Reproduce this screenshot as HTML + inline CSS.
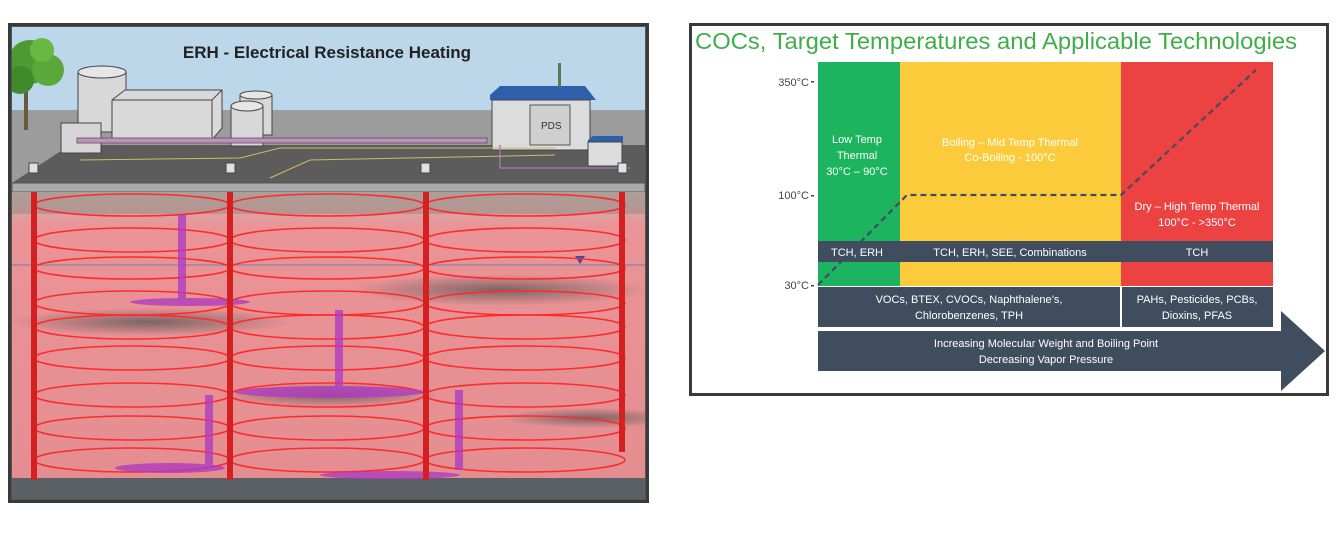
<!DOCTYPE html>
<html><head><meta charset="utf-8"><style>
body{margin:0;width:1336px;height:538px;background:#fff;overflow:hidden;font-family:"Liberation Sans",sans-serif}
</style></head><body>
<svg width="1336" height="538" viewBox="0 0 1336 538" xmlns="http://www.w3.org/2000/svg" style="position:absolute;left:0;top:0">
<defs>
<linearGradient id="soil" x1="0" y1="0" x2="0" y2="1">
<stop offset="0" stop-color="#c9b8b4"/><stop offset="0.12" stop-color="#eb9497"/><stop offset="1" stop-color="#e48e91"/>
</linearGradient>
<radialGradient id="dark" cx="0.5" cy="0.5" r="0.5"><stop offset="0" stop-color="#555" stop-opacity="0.75"/><stop offset="1" stop-color="#555" stop-opacity="0"/></radialGradient>
<clipPath id="lp"><rect x="12" y="27" width="633" height="472"/></clipPath>
</defs>
<!-- LEFT PANEL -->
<rect x="9.5" y="24.5" width="638" height="477" fill="#555" stroke="#3a3a3a" stroke-width="3"/>
<g clip-path="url(#lp)">
<rect x="12" y="27" width="633" height="472" fill="#bcd6ea"/>
<rect x="12" y="110" width="633" height="80" fill="#9c9c9c"/>
<polygon points="12,183 70,145 645,145 645,183" fill="#5c5c5c"/>
<rect x="24" y="90" width="4" height="40" fill="#6b5a3a"/>
<circle cx="30" cy="62" r="22" fill="#4e9a32"/><circle cx="48" cy="70" r="16" fill="#5aa83a"/><circle cx="20" cy="80" r="14" fill="#3f8a2a"/><circle cx="42" cy="50" r="12" fill="#6ab844"/>
<rect x="78" y="72" width="48" height="60" fill="#d8d8d8" stroke="#444"/><ellipse cx="102" cy="72" rx="24" ry="6" fill="#e6e6e6" stroke="#444"/>
<polygon points="112,100 125,90 222,90 222,128 212,140 112,140" fill="#d9d9d9" stroke="#444"/>
<line x1="112" y1="100" x2="212" y2="100" stroke="#444"/><line x1="212" y1="100" x2="222" y2="90" stroke="#444"/><line x1="212" y1="100" x2="212" y2="140" stroke="#444"/>
<rect x="61" y="123" width="40" height="30" fill="#d6d6d6" stroke="#444"/>
<rect x="240" y="95" width="32" height="40" fill="#d8d8d8" stroke="#444"/><ellipse cx="256" cy="95" rx="16" ry="4" fill="#e6e6e6" stroke="#444"/>
<rect x="231" y="106" width="32" height="40" fill="#d8d8d8" stroke="#444"/><ellipse cx="247" cy="106" rx="16" ry="5" fill="#e6e6e6" stroke="#444"/>
<rect x="77" y="138" width="410" height="5" fill="#c48ec0" stroke="#555" stroke-width="0.8"/>
<polygon points="490,95 500,86 585,86 596,100 490,100" fill="#2f5faa"/>
<rect x="492" y="100" width="98" height="50" fill="#dcdcdc" stroke="#444"/>
<rect x="530" y="105" width="40" height="40" fill="#cfcfcf" stroke="#555"/>
<text x="541" y="129" font-size="10" fill="#333">PDS</text>
<rect x="558" y="63" width="3" height="24" fill="#5a7a5a"/>
<polygon points="588,140 593,136 623,136 623,142 588,142" fill="#2f5faa"/><rect x="588" y="142" width="34" height="24" fill="#dcdcdc" stroke="#444"/>
<polyline points="500,145 500,168 630,168" fill="none" stroke="#a36fb0" stroke-width="1.5"/>
<polyline points="80,160 240,158 280,148 555,148" fill="none" stroke="#c8c060" stroke-width="1"/>
<polyline points="270,178 310,160 555,155" fill="none" stroke="#c8c060" stroke-width="1"/>
<rect x="12" y="183" width="633" height="9" fill="#aaa" stroke="#555"/>
<rect x="12" y="192" width="633" height="288" fill="url(#soil)"/>
<rect x="12" y="192" width="633" height="22" fill="#8f8580" opacity="0.5"/>
<ellipse cx="150" cy="322" rx="140" ry="14" fill="url(#dark)"/>
<ellipse cx="500" cy="290" rx="150" ry="16" fill="url(#dark)"/>
<ellipse cx="330" cy="395" rx="110" ry="12" fill="url(#dark)"/>
<ellipse cx="590" cy="418" rx="90" ry="10" fill="url(#dark)"/>
<line x1="12" y1="265" x2="645" y2="265" stroke="#6b7fa8" stroke-width="1"/>
<polygon points="575,256 585,256 580,264" fill="#3b4fa0"/>
<rect x="12" y="478" width="633" height="21" fill="#5b6064"/>
<g fill="none" stroke="#ff2a2a" stroke-width="1.6">
<ellipse cx="132" cy="205" rx="98" ry="11"/><ellipse cx="132" cy="240" rx="98" ry="12"/><ellipse cx="132" cy="268" rx="98" ry="11"/><ellipse cx="132" cy="303" rx="98" ry="12"/><ellipse cx="132" cy="327" rx="98" ry="12"/><ellipse cx="132" cy="358" rx="98" ry="12"/><ellipse cx="132" cy="395" rx="98" ry="12"/><ellipse cx="132" cy="428" rx="98" ry="12"/><ellipse cx="132" cy="460" rx="98" ry="12"/>
<ellipse cx="327" cy="205" rx="97" ry="11"/><ellipse cx="327" cy="240" rx="97" ry="12"/><ellipse cx="327" cy="268" rx="97" ry="11"/><ellipse cx="327" cy="303" rx="97" ry="12"/><ellipse cx="327" cy="327" rx="97" ry="12"/><ellipse cx="327" cy="358" rx="97" ry="12"/><ellipse cx="327" cy="395" rx="97" ry="12"/><ellipse cx="327" cy="428" rx="97" ry="12"/><ellipse cx="327" cy="460" rx="97" ry="12"/>
<ellipse cx="525" cy="205" rx="100" ry="11"/><ellipse cx="525" cy="240" rx="100" ry="12"/><ellipse cx="525" cy="268" rx="100" ry="11"/><ellipse cx="525" cy="303" rx="100" ry="12"/><ellipse cx="525" cy="327" rx="100" ry="12"/><ellipse cx="525" cy="358" rx="100" ry="12"/><ellipse cx="525" cy="395" rx="100" ry="12"/><ellipse cx="525" cy="428" rx="100" ry="12"/><ellipse cx="525" cy="460" rx="100" ry="12"/>
</g>
<g fill="#b03cc0" opacity="0.8">
<rect x="178" y="215" width="8" height="90"/><ellipse cx="190" cy="302" rx="60" ry="4"/>
<rect x="335" y="310" width="8" height="85"/><ellipse cx="330" cy="392" rx="95" ry="6"/>
<rect x="205" y="395" width="8" height="75"/><ellipse cx="170" cy="468" rx="55" ry="5"/>
<rect x="455" y="390" width="8" height="80"/><ellipse cx="390" cy="475" rx="70" ry="4"/>
</g>
<g fill="#d42020"><rect x="31" y="192" width="6" height="288"/><rect x="227" y="192" width="6" height="288"/><rect x="423" y="192" width="6" height="288"/><rect x="619" y="192" width="6" height="260"/></g>
<g fill="#e0e0e0" stroke="#444"><rect x="29" y="163" width="9" height="10"/><rect x="226" y="163" width="9" height="10"/><rect x="421" y="163" width="9" height="10"/><rect x="618" y="163" width="9" height="10"/></g>
<text x="327" y="58" font-size="17" font-weight="bold" fill="#222" text-anchor="middle">ERH - Electrical Resistance Heating</text>
</g>

<!-- RIGHT PANEL -->
<rect x="690.5" y="24.5" width="637" height="370" fill="#fff" stroke="#3a3a3a" stroke-width="3"/>
<text x="695" y="49" font-size="23.5" fill="#3fae49" textLength="602" lengthAdjust="spacingAndGlyphs">COCs, Target Temperatures and Applicable Technologies</text>
<rect x="818" y="62" width="82" height="224" fill="#1cb45e"/>
<rect x="900" y="62" width="221" height="224" fill="#fccb3c"/>
<rect x="1121" y="62" width="152" height="224" fill="#ed4242"/>
<rect x="818" y="241" width="455" height="21" fill="#3f4d5e"/>
<rect x="818" y="287" width="302" height="40" fill="#3f4d5e"/>
<rect x="1122" y="287" width="151" height="40" fill="#3f4d5e"/>
<polygon points="818,331 1281,331 1281,311 1325,351 1281,391 1281,371 818,371" fill="#3f4d5e"/>
<polyline points="818,285 907,195 1121,195 1256,70" fill="none" stroke="#3f4d5e" stroke-width="2.2" stroke-dasharray="6,4"/>
<g font-size="11" fill="#444" text-anchor="end"><text x="809" y="86">350°C</text><text x="809" y="199">100°C</text><text x="809" y="289">30°C</text></g>
<g fill="#444"><rect x="811" y="81" width="3" height="1.5"/><rect x="811" y="195" width="3" height="1.5"/><rect x="811" y="285" width="3" height="1.5"/></g>
<g font-size="11" fill="#fff" text-anchor="middle">
<text x="857" y="143">Low Temp</text><text x="857" y="159">Thermal</text><text x="857" y="175">30°C – 90°C</text>
<text x="1010" y="146">Boiling – Mid Temp Thermal</text><text x="1010" y="161">Co-Boiling -  100°C</text>
<text x="1197" y="210">Dry – High Temp Thermal</text><text x="1197" y="226">100°C - &gt;350°C</text>
<text x="857" y="256">TCH, ERH</text><text x="1010" y="256">TCH, ERH, SEE, Combinations</text><text x="1197" y="256">TCH</text>
<text x="969" y="303">VOCs, BTEX, CVOCs, Naphthalene’s,</text><text x="969" y="319">Chlorobenzenes, TPH</text>
<text x="1197" y="303">PAHs, Pesticides, PCBs,</text><text x="1197" y="319">Dioxins, PFAS</text>
<text x="1046" y="347">Increasing Molecular Weight and Boiling Point</text><text x="1046" y="363">Decreasing Vapor Pressure</text>
</g>
</svg>
</body></html>
